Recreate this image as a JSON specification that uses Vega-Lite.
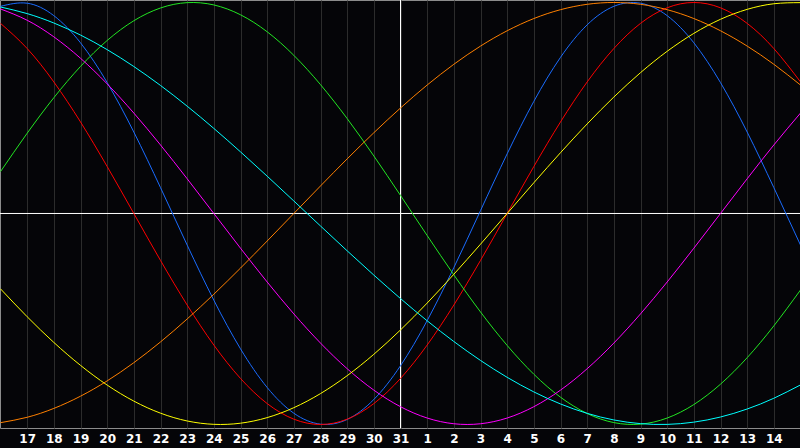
{
  "$schema": "https://vega.github.io/schema/vega-lite/v6.json",
  "width": 800,
  "height": 428,
  "autosize": {"type": "none"},
  "padding": {"left": 0, "top": 0, "right": 0, "bottom": 20},
  "background": "#050508",
  "datasets": {
    "cycles": [
      {"t": 0, "phys": 0.9818, "emot": 0.901, "intel": 0.1985, "intu": 0.9694, "aest": -0.3572, "aware": -0.9914, "spir": 0.9786},
      {"t": 1, "phys": 0.9966, "emot": 0.7818, "intel": 0.3804, "intu": 0.9158, "aest": -0.4894, "aware": -0.9659, "spir": 0.9473},
      {"t": 2, "phys": 0.9376, "emot": 0.6235, "intel": 0.5487, "intu": 0.8372, "aest": -0.6112, "aware": -0.9239, "spir": 0.9028},
      {"t": 3, "phys": 0.809, "emot": 0.4339, "intel": 0.6969, "intu": 0.7357, "aest": -0.7198, "aware": -0.866, "spir": 0.8457},
      {"t": 4, "phys": 0.6203, "emot": 0.2225, "intel": 0.82, "intu": 0.6142, "aest": -0.8133, "aware": -0.7934, "spir": 0.7766},
      {"t": 5, "phys": 0.3859, "emot": 0, "intel": 0.9135, "intu": 0.4759, "aest": -0.8893, "aware": -0.7071, "spir": 0.6965},
      {"t": 6, "phys": 0.1226, "emot": -0.2225, "intel": 0.974, "intu": 0.3247, "aest": -0.9464, "aware": -0.6088, "spir": 0.6068},
      {"t": 7, "phys": -0.1497, "emot": -0.4339, "intel": 0.9993, "intu": 0.1646, "aest": -0.9834, "aware": -0.5, "spir": 0.5086},
      {"t": 8, "phys": -0.411, "emot": -0.6235, "intel": 0.9884, "intu": 0, "aest": -0.9993, "aware": -0.3827, "spir": 0.4032},
      {"t": 9, "phys": -0.6415, "emot": -0.7818, "intel": 0.9418, "intu": -0.1646, "aest": -0.994, "aware": -0.2588, "spir": 0.292},
      {"t": 10, "phys": -0.8247, "emot": -0.901, "intel": 0.8612, "intu": -0.3247, "aest": -0.9675, "aware": -0.1305, "spir": 0.1769},
      {"t": 11, "phys": -0.9467, "emot": -0.9749, "intel": 0.7495, "intu": -0.4759, "aest": -0.9204, "aware": 0, "spir": 0.0593},
      {"t": 12, "phys": -0.9985, "emot": -1, "intel": 0.6107, "intu": -0.6142, "aest": -0.8536, "aware": 0.1305, "spir": -0.0593},
      {"t": 13, "phys": -0.9762, "emot": -0.9749, "intel": 0.4498, "intu": -0.7357, "aest": -0.7687, "aware": 0.2588, "spir": -0.1769},
      {"t": 14, "phys": -0.8815, "emot": -0.901, "intel": 0.2726, "intu": -0.8372, "aest": -0.6674, "aware": 0.3827, "spir": -0.292},
      {"t": 15, "phys": -0.7216, "emot": -0.7818, "intel": 0.0856, "intu": -0.9158, "aest": -0.5519, "aware": 0.5, "spir": -0.4032},
      {"t": 16, "phys": -0.5077, "emot": -0.6235, "intel": -0.1045, "intu": -0.9694, "aest": -0.4245, "aware": 0.6088, "spir": -0.5086},
      {"t": 17, "phys": -0.2566, "emot": -0.4339, "intel": -0.2908, "intu": -0.9966, "aest": -0.2881, "aware": 0.7071, "spir": -0.6068},
      {"t": 18, "phys": 0.0136, "emot": -0.2225, "intel": -0.4667, "intu": -0.9966, "aest": -0.1456, "aware": 0.7934, "spir": -0.6965},
      {"t": 19, "phys": 0.2829, "emot": 0, "intel": -0.6255, "intu": -0.9694, "aest": 0, "aware": 0.866, "spir": -0.7766},
      {"t": 20, "phys": 0.5313, "emot": 0.2225, "intel": -0.762, "intu": -0.9158, "aest": 0.1456, "aware": 0.9239, "spir": -0.8457},
      {"t": 21, "phys": 0.74, "emot": 0.4339, "intel": -0.8708, "intu": -0.8372, "aest": 0.2881, "aware": 0.9659, "spir": -0.9028},
      {"t": 22, "phys": 0.8941, "emot": 0.6235, "intel": -0.948, "intu": -0.7357, "aest": 0.4245, "aware": 0.9914, "spir": -0.9473},
      {"t": 23, "phys": 0.9818, "emot": 0.7818, "intel": -0.9911, "intu": -0.6142, "aest": 0.5519, "aware": 1, "spir": -0.9786},
      {"t": 24, "phys": 0.9966, "emot": 0.901, "intel": -0.9984, "intu": -0.4759, "aest": 0.6674, "aware": 0.9914, "spir": -0.9961},
      {"t": 25, "phys": 0.9376, "emot": 0.9749, "intel": -0.9695, "intu": -0.3247, "aest": 0.7687, "aware": 0.9659, "spir": -0.9996},
      {"t": 26, "phys": 0.809, "emot": 1, "intel": -0.9056, "intu": -0.1646, "aest": 0.8536, "aware": 0.9239, "spir": -0.989},
      {"t": 27, "phys": 0.6203, "emot": 0.9749, "intel": -0.809, "intu": 0, "aest": 0.9204, "aware": 0.866, "spir": -0.9646},
      {"t": 28, "phys": 0.3859, "emot": 0.901, "intel": -0.6834, "intu": 0.1646, "aest": 0.9675, "aware": 0.7934, "spir": -0.9267},
      {"t": 29, "phys": 0.1226, "emot": 0.7818, "intel": -0.5327, "intu": 0.3247, "aest": 0.994, "aware": 0.7071, "spir": -0.8757},
      {"t": 30, "phys": -0.1497, "emot": 0.6235, "intel": -0.3627, "intu": 0.4759, "aest": 0.9993, "aware": 0.6088, "spir": -0.8126}
    ]
  },
  "layer": [
    {
      "data": {"values": [{"t": 15}]},
      "mark": {"type": "rule", "color": "#ffffff", "strokeWidth": 1},
      "encoding": {
        "x": {
          "field": "t",
          "type": "quantitative",
          "scale": {"domain": [-0.01875, 29.98125], "nice": false, "zero": false},
          "axis": {
            "title": null,
            "values": [1, 2, 3, 4, 5, 6, 7, 8, 9, 10, 11, 12, 13, 14, 15, 16, 17, 18, 19, 20, 21, 22, 23, 24, 25, 26, 27, 28, 29],
            "labelExpr": "datum.value <= 15 ? datum.value + 16 : datum.value - 15",
            "grid": true,
            "gridColor": "#2c2c2c",
            "gridOpacity": 1,
            "gridWidth": 1,
            "ticks": false,
            "domain": false,
            "labelColor": "#ffffff",
            "labelFont": "DejaVu Sans",
            "labelFontWeight": "bold",
            "labelFontSize": 12,
            "labelPadding": 5,
            "labelFlush": false,
            "labelOverlap": false
          }
        }
      }
    },
    {
      "data": {"values": [{"v": 0}]},
      "mark": {"type": "rule", "color": "#ffffff", "strokeWidth": 1},
      "encoding": {
        "y": {
          "field": "v",
          "type": "quantitative",
          "scale": {"domain": [-1.0167, 1.0118], "nice": false, "zero": false},
          "axis": null
        }
      }
    },
    {
      "data": {"name": "cycles"},
      "transform": [
        {"fold": ["phys", "emot", "intel", "intu", "aest", "aware", "spir"], "as": ["cycle", "v"]}
      ],
      "mark": {"type": "line", "interpolate": "natural", "strokeWidth": 1, "clip": true},
      "encoding": {
        "x": {
          "field": "t",
          "type": "quantitative",
          "axis": {
            "title": null,
            "values": [1, 2, 3, 4, 5, 6, 7, 8, 9, 10, 11, 12, 13, 14, 15, 16, 17, 18, 19, 20, 21, 22, 23, 24, 25, 26, 27, 28, 29],
            "labelExpr": "datum.value <= 15 ? datum.value + 16 : datum.value - 15",
            "grid": true,
            "gridColor": "#2c2c2c",
            "gridOpacity": 1,
            "gridWidth": 1,
            "ticks": false,
            "domain": false,
            "labelColor": "#ffffff",
            "labelFont": "DejaVu Sans",
            "labelFontWeight": "bold",
            "labelFontSize": 12,
            "labelPadding": 5,
            "labelFlush": false,
            "labelOverlap": false
          }
        },
        "y": {"field": "v", "type": "quantitative", "axis": null},
        "color": {
          "field": "cycle",
          "type": "nominal",
          "scale": {
            "domain": ["phys", "emot", "intel", "intu", "aest", "aware", "spir"],
            "range": ["#1a6cff", "#ff0000", "#22e622", "#ff00ff", "#ffff00", "#ff8000", "#00ffff"]
          },
          "legend": null
        }
      }
    }
  ],
  "config": {
    "view": {"stroke": "#8c8c8c", "strokeWidth": 1},
    "axisX": {"labelOverlap": false}
  }
}
